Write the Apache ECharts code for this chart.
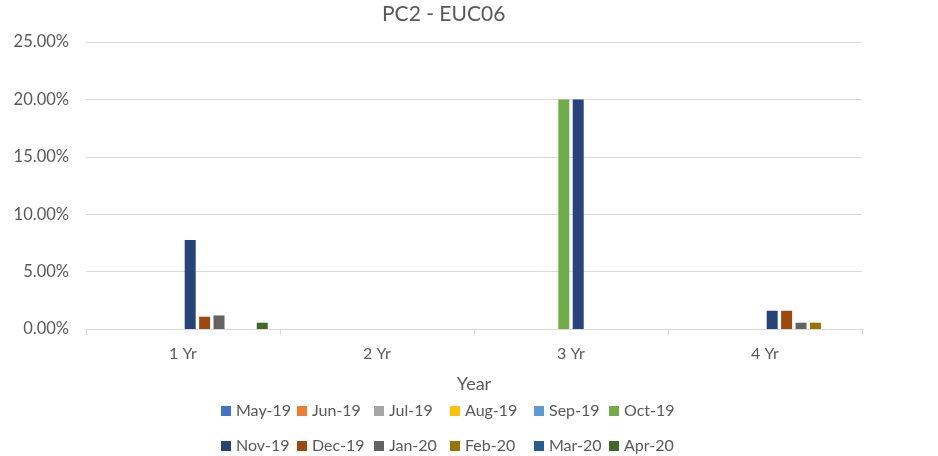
<!DOCTYPE html>
<html>
<head>
<meta charset="utf-8">
<script src="https://cdn.jsdelivr.net/npm/echarts@6/dist/echarts.min.js"></script>
<style>
  html, body { margin: 0; padding: 0; background: #fff; }
  #chart { width: 938px; height: 456px; }
</style>
</head>
<body>
<div id="chart"></div>
<script>
// Categories (x axis) and the monthly series, values in percent
const categories = ['1 Yr', '2 Yr', '3 Yr', '4 Yr'];
const seriesNames = ['May-19', 'Jun-19', 'Jul-19', 'Aug-19', 'Sep-19', 'Oct-19',
                     'Nov-19', 'Dec-19', 'Jan-20', 'Feb-20', 'Mar-20', 'Apr-20'];
const may19 = [0, 0, 0, 0];
const jun19 = [0, 0, 0, 0];
const jul19 = [0, 0, 0, 0];
const aug19 = [0, 0, 0, 0];
const sep19 = [0, 0, 0, 0];
const oct19 = [0, 0, 20, 0];
const nov19 = [7.75, 0, 20, 1.59];
const dec19 = [1.07, 0, 0, 1.59];
const jan20 = [1.18, 0, 0, 0.55];
const feb20 = [0, 0, 0, 0.55];
const mar20 = [0, 0, 0, 0];
const apr20 = [0.55, 0, 0, 0];
const yTicks = [0, 5, 10, 15, 20, 25];

const seriesValues = [may19, jun19, jul19, aug19, sep19, oct19,
                      nov19, dec19, jan20, feb20, mar20, apr20];
const colors = ['#4472C4', '#ED7D31', '#A5A5A5', '#FFC000', '#5B9BD5', '#70AD47',
                '#264478', '#9E480E', '#636363', '#997300', '#255E91', '#43682B'];

const FONT = 'Lato, "Open Sans", sans-serif';
const TEXT = '#595959';

// Legend laid out as a 6x2 grid of single-item legends
const legendCols = [221, 297, 374, 450, 534, 609];
const legendRows = [403, 438];
const legends = seriesNames.map((name, i) => ({
  data: [name],
  left: legendCols[i % 6],
  top: legendRows[Math.floor(i / 6)],
  icon: 'rect',
  itemWidth: 10,
  itemHeight: 10,
  itemGap: 5,
  padding: 0,
  selectedMode: false,
  textStyle: { fontFamily: FONT, fontSize: 16, color: TEXT, lineHeight: 16, padding: [0, 0, 0, 0] }
}));

const chart = echarts.init(document.getElementById('chart'), null, { renderer: 'canvas' });
chart.setOption({
  animation: false,
  color: colors,
  title: {
    text: 'PC2 - EUC06',
    left: 382,
    top: 4,
    padding: 0,
    textStyle: { fontFamily: FONT, fontSize: 21, fontWeight: 'normal', color: TEXT }
  },
  legend: legends,
  grid: { left: 86, right: 76, top: 42, bottom: 127, containLabel: false },
  xAxis: {
    type: 'category',
    data: categories,
    name: 'Year',
    nameLocation: 'middle',
    nameGap: 46,
    nameTextStyle: { fontFamily: FONT, fontSize: 18, color: TEXT },
    axisLine: { lineStyle: { color: '#D9D9D9', width: 1 } },
    axisTick: { show: true, length: 6, lineStyle: { color: '#D9D9D9' } },
    axisLabel: { fontFamily: FONT, fontSize: 16, color: TEXT, margin: 17 }
  },
  yAxis: {
    type: 'value',
    min: yTicks[0],
    max: yTicks[yTicks.length - 1],
    interval: yTicks[1] - yTicks[0],
    axisLine: { show: false },
    axisTick: { show: false },
    splitLine: { lineStyle: { color: '#D9D9D9', width: 1 } },
    axisLabel: {
      fontFamily: FONT, fontSize: 16.5, color: TEXT, margin: 17,
      formatter: v => v.toFixed(2) + '%'
    }
  },
  series: seriesNames.map((name, i) => ({
    name: name,
    type: 'bar',
    data: seriesValues[i],
    barWidth: 11,
    barGap: '31%',
    itemStyle: { color: colors[i] }
  }))
});
</script>
</body>
</html>
